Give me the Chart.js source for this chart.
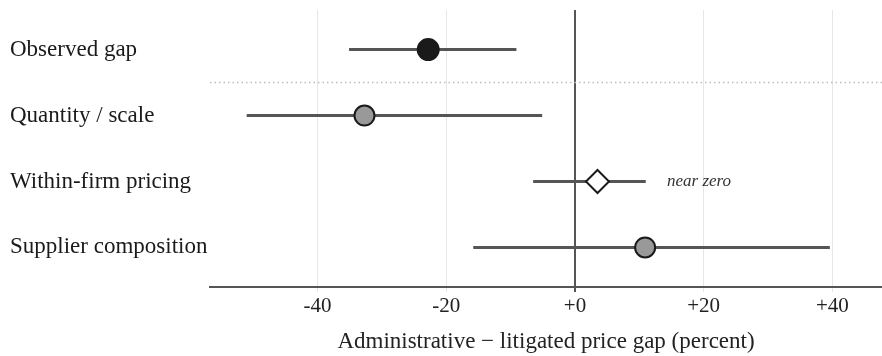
<!DOCTYPE html>
<html>
	<head>
		<style type="text/css">
			html, body { margin: 0; padding: 0; background: #fff; }
			.wrap { width: 882px; height: 356px; }
		</style>
	</head>
	<body>
		<div class="wrap">
			<canvas id="myChart" width="882" height="356"></canvas>
		</div>
		<script src="https://cdn.jsdelivr.net/npm/chart.js@4.4.1/dist/chart.umd.min.js"></script>
		<script>
			// rows, top to bottom
			var rowLabels = ["Observed gap", "Quantity / scale", "Within-firm pricing", "Supplier composition"];
			var estimates = [-22.8, -32.7, 3.5, 10.9];
			var lowerCI = [-35.1, -51.0, -6.5, -15.8];
			var upperCI = [-9.1, -5.1, 11.0, 39.6];
			var xTicks = [-40, -20, 0, 20, 40];
			var noteText = "near zero";
			var noteRow = 2;

			var serif = "'Liberation Serif', 'Times New Roman', serif";

			// marker look per row
			var markerStyle = [
				{shape: "circle", r: 10.5, fill: "#1a1a1a", edge: "#1a1a1a"},
				{shape: "circle", r: 10, fill: "#999999", edge: "#1a1a1a"},
				{shape: "rectRot", r: 11.5, fill: "#ffffff", edge: "#1a1a1a"},
				{shape: "circle", r: 10, fill: "#999999", edge: "#1a1a1a"}
			];

			var datasets = [];
			for (var i = 0; i < rowLabels.length; i++) {
				datasets.push({
					label: rowLabels[i] + " CI",
					data: [{x: lowerCI[i], y: i}, {x: upperCI[i], y: i}],
					showLine: true,
					borderColor: "#555555",
					borderWidth: 3,
					pointRadius: 0,
					pointHoverRadius: 0,
					order: 2
				});
			}
			for (var i = 0; i < rowLabels.length; i++) {
				datasets.push({
					label: rowLabels[i],
					data: [{x: estimates[i], y: i}],
					pointStyle: markerStyle[i].shape,
					pointRadius: markerStyle[i].r,
					pointBackgroundColor: markerStyle[i].fill,
					pointBorderColor: markerStyle[i].edge,
					pointBorderWidth: 2,
					order: 1
				});
			}

			// the scales reserve room for end labels that are not at the ends here
			function noPad(scale) {
				scale.paddingTop = 0;
				scale.paddingBottom = 0;
				scale.paddingLeft = 0;
				scale.paddingRight = 0;
			}

			var separator = {
				id: "separator",
				beforeDatasetsDraw: function(chart) {
					var ctx = chart.ctx, area = chart.chartArea;
					var y = chart.scales.y.getPixelForValue(0.5);
					ctx.save();
					ctx.strokeStyle = "#bdbdbd";
					ctx.lineWidth = 1.5;
					ctx.setLineDash([1.5, 3]);
					ctx.beginPath();
					ctx.moveTo(area.left, y);
					ctx.lineTo(area.right, y);
					ctx.stroke();
					ctx.restore();
				}
			};

			var note = {
				id: "note",
				afterDatasetsDraw: function(chart) {
					var ctx = chart.ctx;
					var x = chart.scales.x.getPixelForValue(upperCI[noteRow] + 3.3);
					var y = chart.scales.y.getPixelForValue(noteRow);
					ctx.save();
					ctx.font = "italic 17px " + serif;
					ctx.fillStyle = "#333333";
					ctx.textAlign = "left";
					ctx.textBaseline = "middle";
					ctx.fillText(noteText, x, y);
					ctx.restore();
				}
			};

			var ctx = document.getElementById("myChart").getContext("2d");
			var myChart = new Chart(ctx, {
				type: "scatter",
				data: {datasets: datasets},
				plugins: [separator, note],
				options: {
					responsive: false,
					animation: false,
					layout: {autoPadding: false, padding: {left: 10, top: 10, right: 0, bottom: 0}},
					plugins: {legend: {display: false}, tooltip: {enabled: false}},
					elements: {line: {tension: 0}},
					scales: {
						x: {
							type: "linear",
							min: -56.7,
							max: 47.7,
							afterBuildTicks: function(scale) {
								scale.ticks = xTicks.map(function(v) { return {value: v}; });
							},
							afterFit: function(scale) { scale.height = 69; noPad(scale); },
							grid: {
								color: function(c) { return c.tick && c.tick.value === 0 ? "#555555" : "#e6e6e6"; },
								lineWidth: function(c) { return c.tick && c.tick.value === 0 ? 2 : 1; },
								tickLength: 5
							},
							border: {display: true, color: "#555555", width: 2},
							ticks: {
								padding: 2,
								color: "#222222",
								font: {family: serif, size: 21},
								callback: function(v) { return v >= 0 ? "+" + v : String(v); }
							},
							title: {
								display: true,
								text: "Administrative \u2212 litigated price gap (percent)",
								color: "#222222",
								font: {family: serif, size: 23},
								padding: {top: 11, bottom: 0}
							}
						},
						y: {
							type: "linear",
							min: -0.6,
							max: 3.6,
							reverse: true,
							afterBuildTicks: function(scale) {
								scale.ticks = rowLabels.map(function(_, i) { return {value: i}; });
							},
							afterFit: function(scale) { scale.width = 200; noPad(scale); },
							grid: {display: false},
							border: {display: false},
							ticks: {
								crossAlign: "far",
								color: "#1a1a1a",
								font: {family: serif, size: 23},
								callback: function(v) { return rowLabels[v]; }
							}
						}
					}
				}
			});
		</script>
	</body>
</html>
